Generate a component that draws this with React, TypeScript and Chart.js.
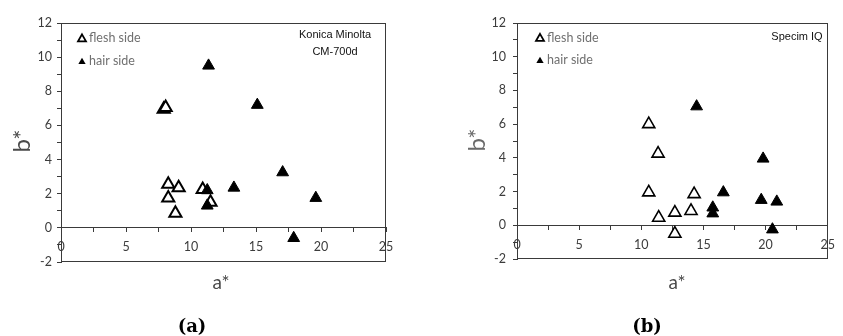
import React, { useEffect, useRef } from 'react';
import { Chart, registerables } from 'chart.js';

Chart.register(...registerables);

// ---- tick labels ----
const X_TICKS = [0, 5, 10, 15, 20, 25];
const Y_TICKS = [-2, 0, 2, 4, 6, 8, 10, 12];

// ---- (a) Konica Minolta CM-700d ----
const A_FLESH_X = [7.9, 8.05, 8.25, 8.25, 8.8, 9.05, 10.9, 11.5];
const A_FLESH_Y = [6.95, 7.05, 2.55, 1.75, 0.85, 2.35, 2.25, 1.5];
const A_HAIR_X = [11.35, 15.1, 11.25, 11.25, 13.3, 17.05, 19.6, 17.9];
const A_HAIR_Y = [9.5, 7.2, 2.2, 1.3, 2.35, 3.25, 1.75, -0.6];

// ---- (b) Specim IQ ----
const B_FLESH_X = [10.6, 11.35, 10.6, 11.4, 12.7, 12.7, 14.0, 14.25];
const B_FLESH_Y = [6.0, 4.25, 1.95, 0.45, 0.75, -0.5, 0.85, 1.85];
const B_HAIR_X = [14.45, 19.8, 16.6, 15.75, 15.75, 19.65, 20.9, 20.55];
const B_HAIR_Y = [7.05, 3.95, 1.95, 1.05, 0.7, 1.5, 1.4, -0.25];

const SERIES_NAMES = ['flesh side', 'hair side'];

type Panel = {
  left: number;
  width: number;
  pad: { left: number; right: number; top: number; bottom: number };
  fleshX: number[];
  fleshY: number[];
  hairX: number[];
  hairY: number[];
  openBorder: number;
  yTickPad: number;
  yTitle: { x: number; y: number; color: string };
  legend: { x: number; y1: number; y2: number };
  note: { x: number; lines: string[]; y0: number; dy: number };
  xTitle: { x: number; y: number };
  caption: { x: number; y: number; text: string };
};

const PANELS: Panel[] = [
  {
    left: 0,
    width: 420,
    pad: { left: 11, right: 34, top: 23, bottom: 74 },
    fleshX: A_FLESH_X,
    fleshY: A_FLESH_Y,
    hairX: A_HAIR_X,
    hairY: A_HAIR_Y,
    openBorder: 2,
    yTickPad: 5,
    yTitle: { x: 22, y: 141, color: '#4a4a4a' },
    legend: { x: 82, y1: 38, y2: 61 },
    note: { x: 335, lines: ['Konica Minolta', 'CM-700d'], y0: 35, dy: 17 },
    xTitle: { x: 221, y: 283 },
    caption: { x: 192, y: 327, text: 'a' },
  },
  {
    left: 420,
    width: 423,
    pad: { left: 47, right: 6, top: 23, bottom: 77 },
    fleshX: B_FLESH_X,
    fleshY: B_FLESH_Y,
    hairX: B_HAIR_X,
    hairY: B_HAIR_Y,
    openBorder: 1.6,
    yTickPad: 7,
    yTitle: { x: 57, y: 140, color: '#6a6a6a' },
    legend: { x: 120, y1: 37.5, y2: 60 },
    note: { x: 377, lines: ['Specim IQ'], y0: 37, dy: 17 },
    xTitle: { x: 257, y: 283 },
    caption: { x: 227, y: 327, text: 'b' },
  },
];

function triPath(ctx: CanvasRenderingContext2D, x: number, y: number, r: number) {
  ctx.beginPath();
  ctx.moveTo(x, y - r);
  ctx.lineTo(x + r * 0.866, y + r / 2);
  ctx.lineTo(x - r * 0.866, y + r / 2);
  ctx.closePath();
}

function makeExtras(p: Panel) {
  return {
    id: 'extras',
    beforeDatasetsDraw(chart: any) {
      const { ctx, chartArea: ca } = chart;
      ctx.save();
      ctx.strokeStyle = '#3a3a3a';
      ctx.lineWidth = 1;
      ctx.strokeRect(
        Math.round(ca.left) + 0.5,
        Math.round(ca.top) + 0.5,
        Math.round(ca.right) - Math.round(ca.left) - 1,
        Math.round(ca.bottom) - Math.round(ca.top) - 1
      );
      ctx.restore();
    },
    afterDraw(chart: any) {
      const ctx: CanvasRenderingContext2D = chart.ctx;
      ctx.save();
      // y title
      ctx.save();
      ctx.translate(p.yTitle.x, p.yTitle.y);
      ctx.rotate(-Math.PI / 2);
      ctx.fillStyle = p.yTitle.color;
      ctx.font = '24px Lato';
      ctx.textAlign = 'center';
      ctx.textBaseline = 'middle';
      ctx.fillText('b*', 0, 0);
      ctx.restore();

      // legend
      ctx.font = '12.5px Lato';
      ctx.textAlign = 'left';
      ctx.textBaseline = 'middle';
      triPath(ctx, p.legend.x, p.legend.y1 + 1, 4.6);
      ctx.fillStyle = '#ffffff';
      ctx.fill();
      ctx.lineWidth = 1.8;
      ctx.strokeStyle = '#000000';
      ctx.stroke();
      triPath(ctx, p.legend.x, p.legend.y2 + 1, 4.2);
      ctx.fillStyle = '#000000';
      ctx.fill();
      ctx.fillStyle = '#707070';
      ctx.fillText(SERIES_NAMES[0], p.legend.x + 7, p.legend.y1);
      ctx.fillText(SERIES_NAMES[1], p.legend.x + 7, p.legend.y2);

      // instrument note
      ctx.font = '11px "Liberation Sans"';
      ctx.textAlign = 'center';
      ctx.fillStyle = '#111111';
      p.note.lines.forEach((ln, i) => ctx.fillText(ln, p.note.x, p.note.y0 + i * p.note.dy));

      // x title
      ctx.font = '19px Lato';
      ctx.fillStyle = '#4a4a4a';
      ctx.fillText('a*', p.xTitle.x, p.xTitle.y);

      // caption
      ctx.fillStyle = '#000000';
      ctx.font = 'bold 18px "DejaVu Serif"';
      ctx.fillText('(' + p.caption.text + ')', p.caption.x, p.caption.y);
      ctx.restore();
    },
  };
}

function ScatterPanel({ p }: { p: Panel }) {
  const ref = useRef<HTMLCanvasElement | null>(null);
  useEffect(() => {
    if (!ref.current) return;
    const flesh = p.fleshX.map((x, i) => ({ x, y: p.fleshY[i] }));
    const hair = p.hairX.map((x, i) => ({ x, y: p.hairY[i] }));
    const tickColor = '#3c3c3c';
    const tickFont = { family: 'Lato', size: 12.5 };
    const chart = new Chart(ref.current, {
      type: 'scatter',
      data: {
        datasets: [
          {
            label: SERIES_NAMES[0],
            data: flesh,
            pointStyle: 'triangle',
            pointRadius: 7,
            pointHoverRadius: 7,
            backgroundColor: '#ffffff',
            borderColor: '#000000',
            borderWidth: p.openBorder,
            order: 1,
          },
          {
            label: SERIES_NAMES[1],
            data: hair,
            pointStyle: 'triangle',
            pointRadius: 6.8,
            pointHoverRadius: 6.8,
            backgroundColor: '#000000',
            borderColor: '#000000',
            borderWidth: 1,
            order: 0,
          },
        ],
      },
      options: {
        responsive: false,
        animation: false,
        devicePixelRatio: 1,
        layout: { padding: p.pad },
        plugins: {
          legend: { display: false },
          tooltip: { enabled: false },
          title: { display: false },
        },
        scales: {
          x: {
            type: 'linear',
            position: { y: 0 } as any,
            min: 0,
            max: 25,
            ticks: {
              stepSize: 2.5,
              autoSkip: false,
              maxRotation: 0,
              padding: 8,
              color: tickColor,
              font: tickFont,
              callback: (v: any) => (X_TICKS.includes(Number(v)) ? String(v) : ''),
            },
            grid: { drawOnChartArea: false, drawTicks: true, tickLength: 4, color: '#3a3a3a' },
            border: { color: '#3a3a3a', width: 1 },
          },
          y: {
            type: 'linear',
            min: -2,
            max: 12,
            afterFit: (s: any) => {
              s.width = 50;
            },
            ticks: {
              stepSize: 1,
              autoSkip: false,
              padding: p.yTickPad,
              color: tickColor,
              font: tickFont,
              callback: (v: any) => (Y_TICKS.includes(Number(v)) ? String(v) : ''),
            },
            grid: { drawOnChartArea: false, drawTicks: true, tickLength: 4, color: '#3a3a3a' },
            border: { color: '#3a3a3a', width: 1 },
          },
        },
      },
      plugins: [makeExtras(p)],
    } as any);
    return () => chart.destroy();
  }, [p]);
  return (
    <canvas
      ref={ref}
      width={p.width}
      height={336}
      style={{ position: 'absolute', left: p.left, top: 0, width: p.width, height: 336 }}
    />
  );
}

export default function App() {
  useEffect(() => {
    document.body.style.margin = '0';
    document.body.style.background = '#ffffff';
  }, []);
  return (
    <div style={{ position: 'relative', width: 843, height: 336, background: '#ffffff', overflow: 'hidden' }}>
      {PANELS.map((p, i) => (
        <ScatterPanel key={i} p={p} />
      ))}
    </div>
  );
}
